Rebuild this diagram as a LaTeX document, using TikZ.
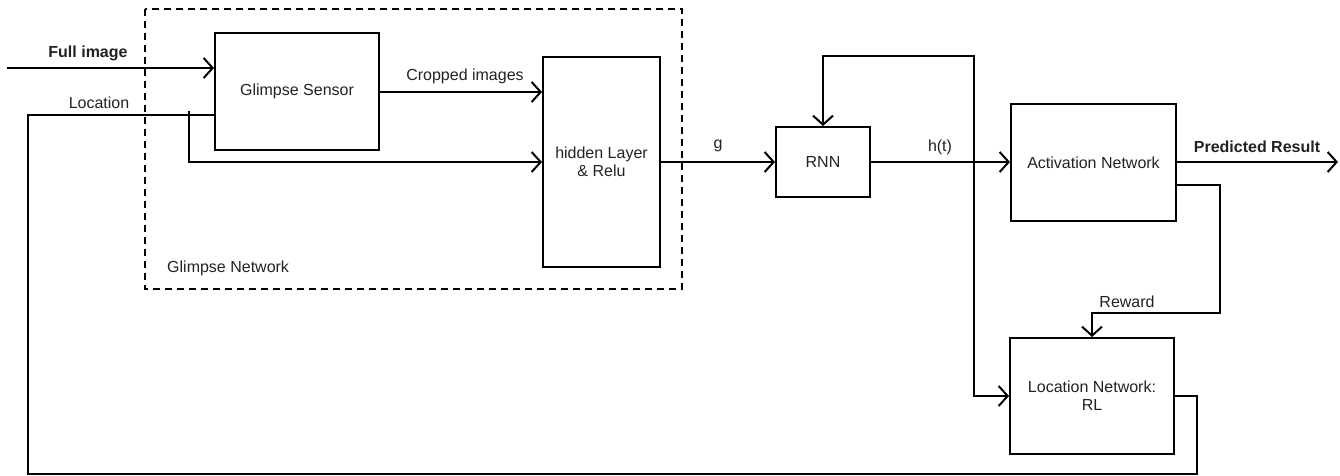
\documentclass[tikz,border=0pt]{standalone}
\usepackage{fontspec}
\setmainfont{Liberation Sans}
\usetikzlibrary{arrows.meta,calc}
\definecolor{txt}{HTML}{222222}
\begin{document}
\begin{tikzpicture}[x=1pt,y=-1pt,
  box/.style={draw=black,line width=2pt,inner sep=0pt,anchor=north west,align=center,text=txt,font=\fontsize{16}{19}\selectfont},
  wire/.style={line width=2pt,draw=black},
  arr/.style={wire,-{Straight Barb[length=9pt,width=20pt,line width=2pt]}},
  lbl/.style={text=txt,font=\fontsize{16}{19}\selectfont,inner sep=0pt},
  blbl/.style={lbl,font=\fontsize{16}{19}\selectfont\bfseries}]
\useasboundingbox (0,0) rectangle (1340,476);
% dashed group
\draw[line width=2pt,dash pattern=on 7pt off 5pt] (145,9) rectangle (682,289);
\node[lbl,anchor=west] (gnl) at (167,268) {Glimpse Network};
% boxes
\node[box,minimum width=164pt,minimum height=117pt] (gs) at (214,32) {Glimpse Sensor};
\node[box,minimum width=117pt,minimum height=210pt] (hid) at (542,56) {hidden Layer\\[-1pt]\& Relu};
\node[box,minimum width=94pt,minimum height=70pt] (rnn) at (775,126) {RNN};
\node[box,minimum width=165pt,minimum height=117pt] (act) at (1010,103) {Activation Network};
\node[box,minimum width=164pt,minimum height=116pt] (ln) at (1009,337) {Location Network:\\[-1pt]RL};
% coordinates
\coordinate (fin) at (7,68);
\coordinate (locy) at (0,115);
\coordinate (br) at (189,111);
\coordinate (cry) at (0,92);
\coordinate (tap) at (974,162);
\coordinate (top) at (0,56);
\coordinate (outp) at (1338,162);
\coordinate (rwy) at (0,185);
\coordinate (rwc) at (1220,313);
\coordinate (lr) at (1197,474);
\coordinate (ll) at (28,474);
% connectors
\draw[arr] (fin) -- (gs.west |- fin);
\draw[wire] (ln.east) -| (lr) -- (ll) |- (gs.west |- locy);
\draw[arr] (br) |- (hid.west);
\draw[arr] (gs.east |- cry) -- (hid.west |- cry);
\draw[arr] (hid.east) -- (rnn.west);
\draw[arr] (rnn.east) -- (act.west |- rnn.east);
\draw[arr] (tap) |- (rnn.north |- top) -- (rnn.north);
\draw[arr] (tap) |- (ln.west);
\draw[arr] (act.east |- rnn.east) -- (outp);
\draw[arr] (act.east |- rwy) -| (rwc) -| (ln.north);
% labels
\node[blbl] (lfi) at (88,53) {Full image};
\node[lbl] (lloc) at (99,103) {Location};
\node[lbl] (lcr) at (465,76) {Cropped images};
\node[lbl] (lg) at (718,146) {g};
\node[lbl] (lht) at (940,147) {h(t)};
\node[blbl] (lpr) at (1257,147) {Predicted Result};
\node[lbl] (lrw) at (1127,302) {Reward};
\end{tikzpicture}
\end{document}
